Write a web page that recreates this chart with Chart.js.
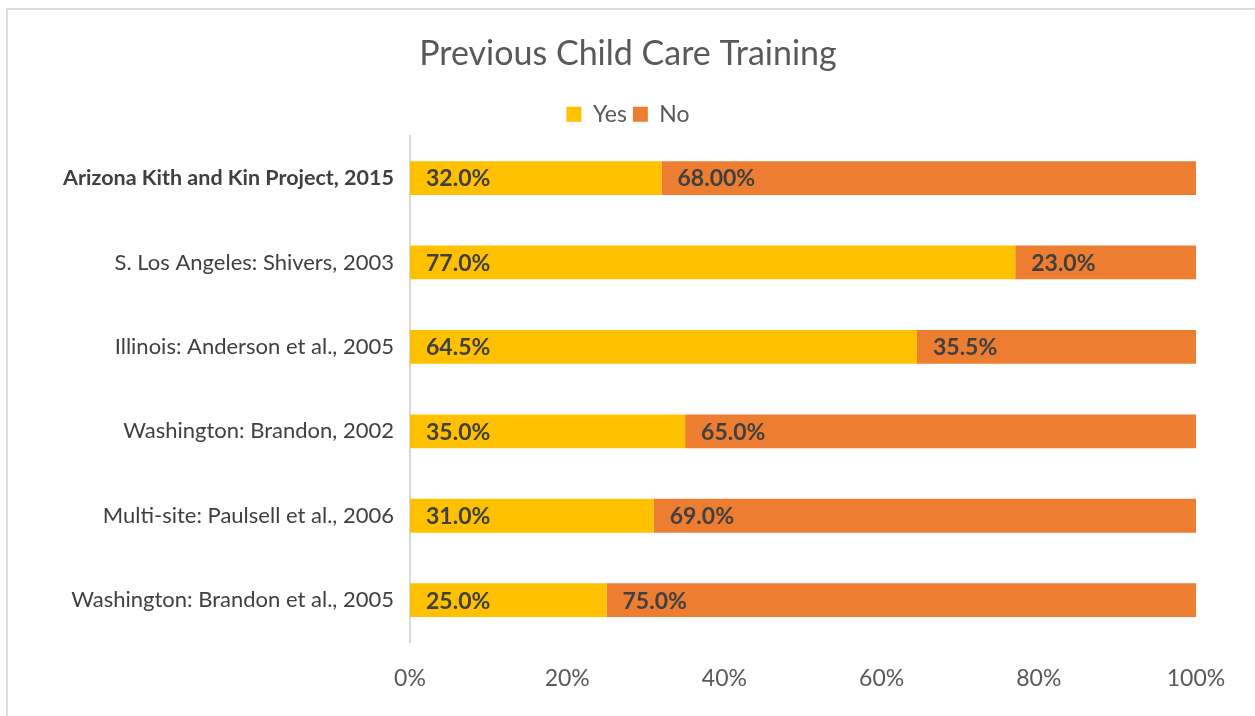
<!DOCTYPE html>
<html>
<head>
<meta charset="utf-8">
<script src="https://cdn.jsdelivr.net/npm/chart.js@4"></script>
<style>
  html, body { margin: 0; padding: 0; background: #fff; overflow: hidden; }
  #frame { position: absolute; left: 0; top: 0; width: 1255px; height: 716px; }
  #edge { position: absolute; left: 6px; top: 8px; width: 1300px; height: 800px; border-left: 2px solid #dedede; border-top: 2px solid #dedede; }
</style>
</head>
<body>
<div id="edge"></div>
<div id="frame"><canvas id="myChart" width="1255" height="716"></canvas></div>
<script>
var categories = ['Arizona Kith and Kin Project, 2015', 'S. Los Angeles: Shivers, 2003', 'Illinois: Anderson et al., 2005',
  'Washington: Brandon, 2002', 'Multi-site: Paulsell et al., 2006', 'Washington: Brandon et al., 2005'];
var yesValues = [32.0, 77.0, 64.5, 35.0, 31.0, 25.0];
var noValues = [68.0, 23.0, 35.5, 65.0, 69.0, 75.0];
var yesLabels = ['32.0%', '77.0%', '64.5%', '35.0%', '31.0%', '25.0%'];
var noLabels = ['68.00%', '23.0%', '35.5%', '65.0%', '69.0%', '75.0%'];
var xTicks = [0, 20, 40, 60, 80, 100];

var FONT = 'Lato, "Open Sans", sans-serif';

// draw labels at the left end of each segment
var barLabels = {
  id: 'barLabels',
  afterDatasetsDraw: function(chart) {
    var ctx = chart.ctx;
    var texts = [yesLabels, noLabels];
    ctx.save();
    ctx.font = 'bold 23px ' + FONT;
    ctx.fillStyle = '#404040';
    ctx.textAlign = 'left';
    ctx.textBaseline = 'middle';
    chart.data.datasets.forEach(function(ds, i) {
      chart.getDatasetMeta(i).data.forEach(function(bar, j) {
        var left = Math.min(bar.base, bar.x);
        ctx.fillText(texts[i][j], left + 16, bar.y + 1);
      });
    });
    ctx.restore();
  }
};

window.onload = function() {
  var ctx = document.getElementById('myChart').getContext('2d');
  var myChart = new Chart(ctx, {
    type: 'bar',
    data: {
      labels: categories,
      datasets: [{
        label: 'Yes',
        data: yesValues,
        backgroundColor: '#FFC000',
        barPercentage: 0.4,
        categoryPercentage: 1
      }, {
        label: 'No',
        data: noValues,
        backgroundColor: '#ED7D31',
        barPercentage: 0.4,
        categoryPercentage: 1
      }]
    },
    options: {
      indexAxis: 'y',
      responsive: false,
      animation: false,
      layout: { padding: { top: 20, right: 59, bottom: 10, left: 60 } },
      plugins: {
        title: {
          display: true,
          text: 'Previous Child Care Training',
          color: '#595959',
          font: { family: FONT, size: 34, weight: 'normal' },
          padding: { top: 14, bottom: 22 }
        },
        legend: {
          display: true,
          labels: {
            color: '#595959',
            font: { family: FONT, size: 23 },
            boxWidth: 15,
            boxHeight: 15,
            padding: 6
          }
        },
        tooltip: { enabled: false }
      },
      scales: {
        x: {
          stacked: true,
          min: 0,
          max: 100,
          afterBuildTicks: function(axis) {
            axis.ticks = xTicks.map(function(v) { return { value: v }; });
          },
          grid: { display: false },
          border: { display: false },
          ticks: {
            color: '#595959',
            font: { family: FONT, size: 23 },
            padding: 14,
            callback: function(v) { return v + '%'; }
          }
        },
        y: {
          stacked: true,
          grid: { display: false },
          border: { display: true, color: '#d9d9d9', width: 2 },
          afterFit: function(axis) { axis.width = 350; },
          ticks: {
            color: '#404040',
            padding: 8,
            font: function(c) {
              return { family: FONT, size: c.index === 0 ? 21.5 : 22, weight: c.index === 0 ? 'bold' : 'normal' };
            }
          }
        }
      }
    },
    plugins: [barLabels]
  });
};
</script>
</body>
</html>
